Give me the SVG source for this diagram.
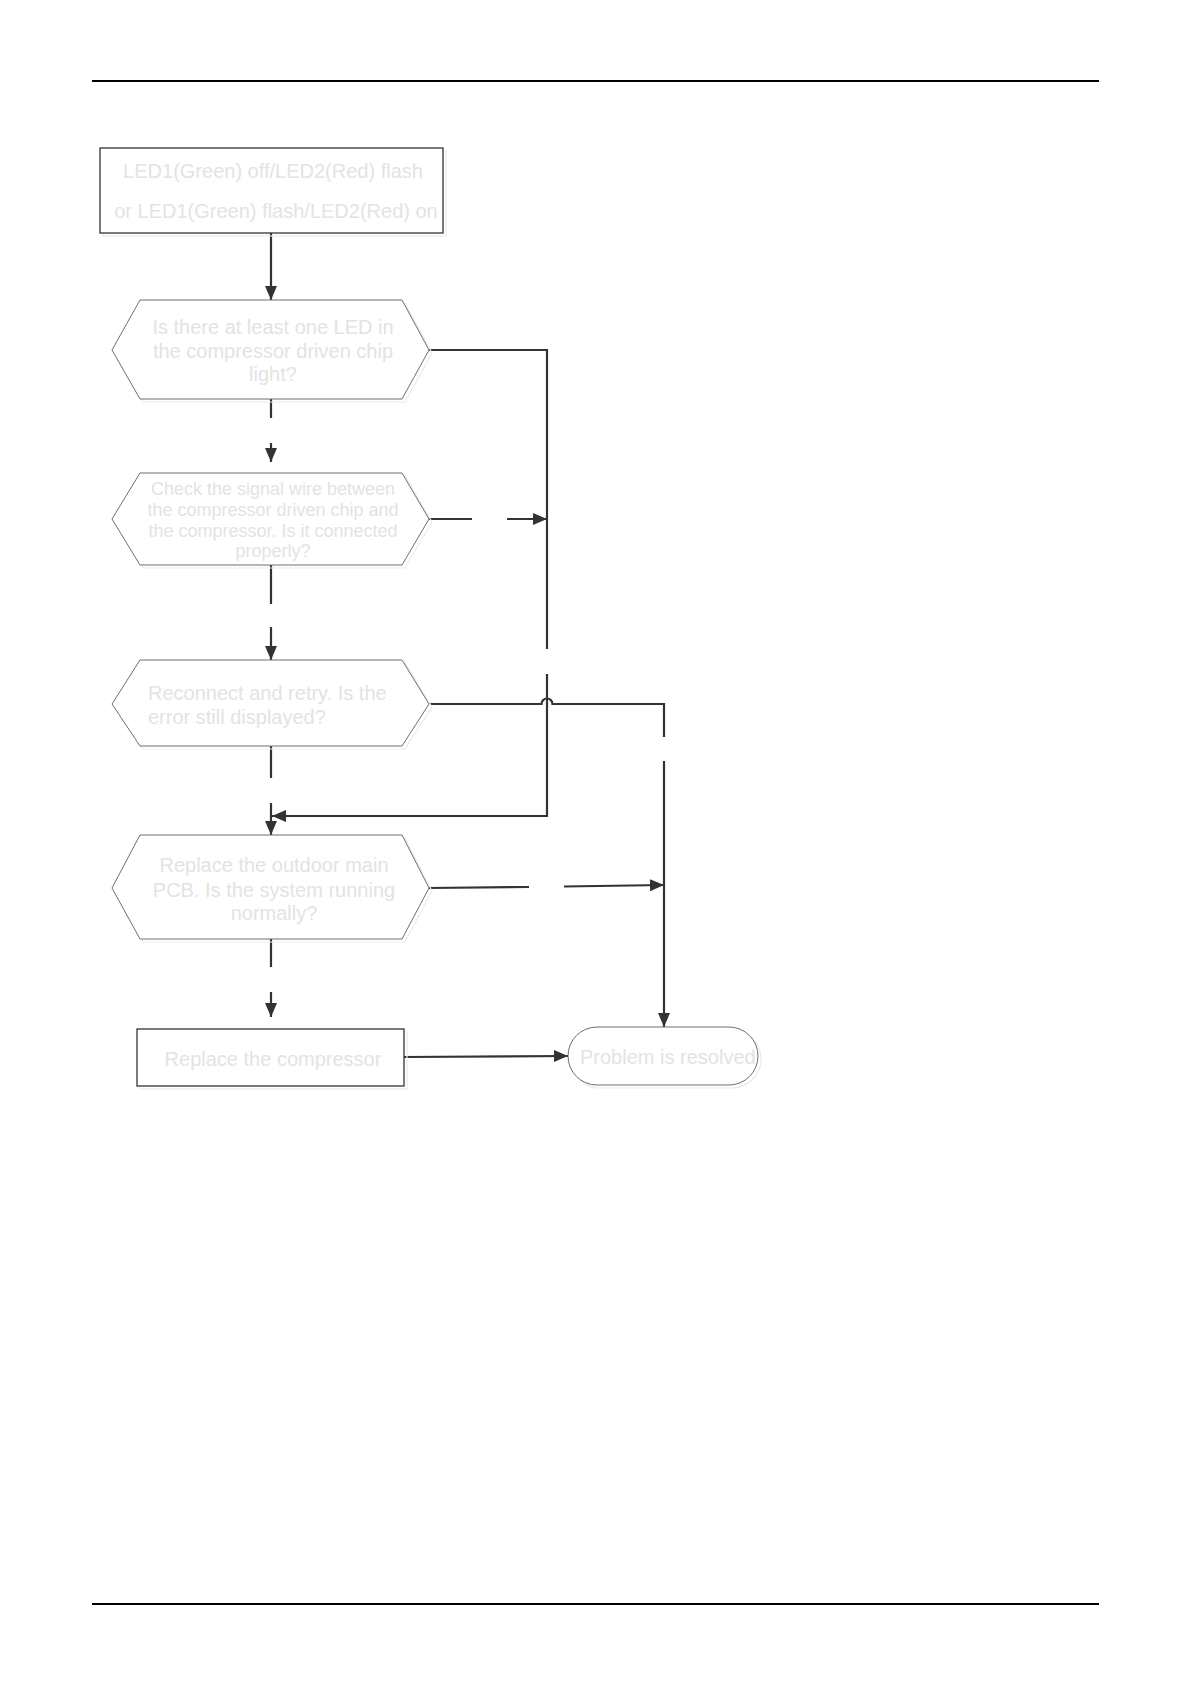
<svg xmlns="http://www.w3.org/2000/svg" width="1191" height="1685" viewBox="0 0 1191 1685">
  <defs>
    <style>
      .rule { stroke: #000; stroke-width: 2.2; fill: none; }
      .box { fill: #fff; stroke: #333; stroke-width: 1.3; }
      .hex { fill: #fff; stroke: #6e6e6e; stroke-width: 1; }
      .term { fill: #fff; stroke: #6e6e6e; stroke-width: 1; }
      .shadow { fill: none; stroke: #ebebeb; stroke-width: 1.2; }
      .t { font-family: "Liberation Sans", Arial, sans-serif; font-size: 20px; fill: #e3e3e3; }
      .t18 { font-size: 18px; }
      .c { text-anchor: middle; }
      .con { stroke: #333; stroke-width: 2.2; fill: none; }
      .arr { marker-end: url(#ah); }
    </style>
    <marker id="ah" markerUnits="userSpaceOnUse" markerWidth="15" markerHeight="13" refX="14" refY="6.5" orient="auto">
      <path d="M0,0.5 L14,6.5 L0,12.5 z" fill="#333"/>
    </marker>
  </defs>

  <rect width="1191" height="1685" fill="#fff"/>
  <line class="rule" x1="92" y1="81" x2="1099" y2="81"/>
  <line class="rule" x1="92" y1="1604" x2="1099" y2="1604"/>

  <g id="connectors">
    <line class="con arr" x1="271" y1="233" x2="271" y2="300"/>
    <line class="con" x1="271" y1="399" x2="271" y2="418"/>
    <line class="con arr" x1="271" y1="443" x2="271" y2="462"/>
    <line class="con" x1="271" y1="565" x2="271" y2="604"/>
    <line class="con arr" x1="271" y1="627" x2="271" y2="660"/>
    <line class="con" x1="271" y1="746" x2="271" y2="778"/>
    <line class="con arr" x1="271" y1="803" x2="271" y2="835"/>
    <line class="con" x1="271" y1="939" x2="271" y2="967"/>
    <line class="con arr" x1="271" y1="992" x2="271" y2="1017"/>
    <polyline class="con" points="429,350 547,350 547,649"/>
    <polyline class="con arr" points="547,674 547,816 272,816"/>
    <line class="con" x1="429" y1="519" x2="472" y2="519"/>
    <line class="con arr" x1="507" y1="519" x2="547" y2="519"/>
    <path class="con" d="M430,704 H541.5 A5.5,5.5 0 0 1 552.5,704 H664 V737"/>
    <line class="con arr" x1="664" y1="761" x2="664" y2="1027"/>
    <line class="con" x1="429" y1="888" x2="529" y2="887"/>
    <line class="con arr" x1="564" y1="886.5" x2="664" y2="885"/>
    <line class="con arr" x1="404" y1="1057" x2="568" y2="1056"/>
  </g>

  <g id="start">
    <rect class="shadow" x="103" y="151" width="343" height="85"/>
    <rect class="box" x="100" y="148" width="343" height="85"/>
    <text class="t c" x="273" y="178">LED1(Green) off/LED2(Red) flash</text>
    <text class="t c" x="276" y="218">or LED1(Green) flash/LED2(Red) on</text>
  </g>

  <g id="q1">
    <polygon class="shadow" points="115,353 143,303 405,303 432,353 405,402 143,402"/>
    <polygon class="hex" points="112,350 140,300 402,300 429,350 402,399 140,399"/>
    <text class="t c" x="273" y="334">Is there at least one LED in</text>
    <text class="t c" x="273" y="358">the compressor driven chip</text>
    <text class="t c" x="273" y="381">light?</text>
  </g>

  <g id="q2">
    <polygon class="shadow" points="115,522 143,476 405,476 432,522 405,568 143,568"/>
    <polygon class="hex" points="112,519 140,473 402,473 429,519 402,565 140,565"/>
    <text class="t t18 c" x="273" y="495">Check the signal wire between</text>
    <text class="t t18 c" x="273" y="516">the compressor driven chip and</text>
    <text class="t t18 c" x="273" y="537">the compressor. Is it connected</text>
    <text class="t t18 c" x="273" y="557">properly?</text>
  </g>

  <g id="q3">
    <polygon class="shadow" points="115,707 143,663 405,663 432,707 405,749 143,749"/>
    <polygon class="hex" points="112,704 140,660 402,660 429,704 402,746 140,746"/>
    <text class="t" x="148" y="700">Reconnect and retry. Is the</text>
    <text class="t" x="148" y="724">error still displayed?</text>
  </g>

  <g id="q4">
    <polygon class="shadow" points="115,891 143,838 405,838 432,891 405,942 143,942"/>
    <polygon class="hex" points="112,888 140,835 402,835 429,888 402,939 140,939"/>
    <text class="t c" x="274" y="872">Replace the outdoor main</text>
    <text class="t c" x="274" y="897">PCB. Is the system running</text>
    <text class="t c" x="274" y="920">normally?</text>
  </g>

  <g id="replace">
    <rect class="shadow" x="140" y="1032" width="267" height="57"/>
    <rect class="box" x="137" y="1029" width="267" height="57"/>
    <text class="t c" x="273" y="1066">Replace the compressor</text>
  </g>

  <g id="resolved">
    <rect class="shadow" x="571" y="1030" width="190" height="58" rx="29"/>
    <rect class="term" x="568" y="1027" width="190" height="58" rx="29"/>
    <text class="t" x="580" y="1064">Problem is resolved</text>
  </g>
</svg>
